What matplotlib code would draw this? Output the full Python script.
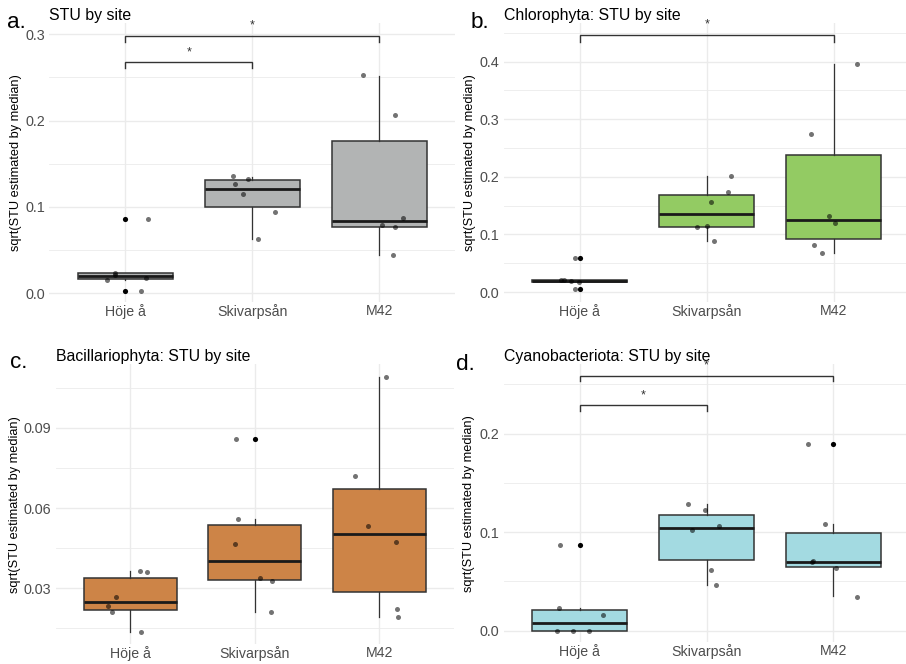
import matplotlib
matplotlib.use("Agg")
import matplotlib.pyplot as plt
from matplotlib.ticker import MultipleLocator

plt.rcParams['font.family'] = ['Liberation Sans', 'DejaVu Sans']

sites = ['Höje å', 'Skivarpsån', 'M42']
ylabel = 'sqrt(STU estimated by median)'

# ---------------- panel a ----------------
a_title = 'STU by site'
a_q1 = [0.0162, 0.0996, 0.0772]
a_med = [0.0201, 0.1208, 0.0838]
a_q3 = [0.0232, 0.1309, 0.1768]
a_lo = [0.0158, 0.0633, 0.0440]
a_hi = [0.0232, 0.1350, 0.2517]
a_out = [[0.0865, 0.0027], [], []]
a_pts = [[0.0865, 0.0232, 0.0210, 0.0158, 0.0180, 0.0023],
         [0.1363, 0.1263, 0.1328, 0.1154, 0.0942, 0.0629],
         [0.2525, 0.2066, 0.0876, 0.0792, 0.0768, 0.0440]]
a_jit = [[0.178, -0.084, -0.084, -0.144, 0.163, 0.126],
         [-0.152, -0.139, -0.037, -0.071, 0.178, 0.042],
         [-0.126, 0.121, 0.186, 0.024, 0.126, 0.110]]
a_brk = [(0, 1, 0.268, 0.2606, 0.279), (0, 2, 0.298, 0.2907, 0.3097)]

# ---------------- panel b ----------------
b_title = 'Chlorophyta: STU by site'
b_q1 = [0.0177, 0.1135, 0.0915]
b_med = [0.0192, 0.1349, 0.1256]
b_q3 = [0.0205, 0.1685, 0.2379]
b_lo = [0.0174, 0.0891, 0.0672]
b_hi = [0.0208, 0.2015, 0.3960]
b_out = [[0.0597, 0.0047], [], []]
b_pts = [[0.0597, 0.0203, 0.0208, 0.0186, 0.0174, 0.0047],
         [0.2020, 0.1730, 0.1557, 0.1129, 0.1152, 0.0886],
         [0.3965, 0.2738, 0.1314, 0.1204, 0.0810, 0.0672]]
b_jit = [[-0.037, -0.150, -0.126, -0.069, -0.006, -0.037],
         [0.192, 0.168, 0.034, -0.076, 0.0, 0.055],
         [0.184, -0.181, -0.037, 0.008, -0.152, -0.094]]
b_brk = [(0, 2, 0.4463, 0.4347, 0.4654)]

# ---------------- panel c ----------------
c_title = 'Bacillariophyta: STU by site'
c_q1 = [0.02177, 0.03300, 0.02857]
c_med = [0.02501, 0.04023, 0.05030]
c_q3 = [0.03374, 0.05358, 0.06730]
c_lo = [0.01366, 0.02114, 0.01927]
c_hi = [0.03636, 0.05582, 0.10910]
c_out = [[], [0.08588], []]
c_pts = [[0.03649, 0.03624, 0.02663, 0.02326, 0.02127, 0.01366],
         [0.08588, 0.05595, 0.04659, 0.03374, 0.03274, 0.02114],
         [0.10910, 0.07204, 0.05320, 0.04746, 0.02226, 0.01927]]
c_jit = [[0.075, 0.134, -0.115, -0.182, -0.145, 0.086],
         [-0.147, -0.134, -0.158, 0.043, 0.137, 0.131],
         [0.056, -0.198, -0.088, 0.131, 0.145, 0.153]]
c_brk = []

# ---------------- panel d ----------------
d_title = 'Cyanobacteriota: STU by site'
d_q1 = [0.0000, 0.0717, 0.0650]
d_med = [0.00778, 0.1042, 0.0700]
d_q3 = [0.02064, 0.1178, 0.0988]
d_lo = [0.0000, 0.0460, 0.0349]
d_hi = [0.0227, 0.1286, 0.1080]
d_out = [[0.0866], [], [0.1892]]
d_pts = [[0.0866, 0.0227, 0.0159, 0.0, 0.0, 0.0],
         [0.1286, 0.1222, 0.1059, 0.1025, 0.0616, 0.0460],
         [0.1892, 0.1080, 0.0711, 0.0694, 0.0640, 0.0345]]
d_jit = [[-0.155, -0.163, 0.187, -0.176, -0.053, 0.074],
         [-0.150, -0.011, 0.095, -0.116, 0.037, 0.076],
         [-0.197, -0.063, -0.158, -0.166, 0.016, 0.187]]
d_brk = [(0, 1, 0.2288, 0.2230, 0.2393), (0, 2, 0.2589, 0.2531, 0.2694)]

W, H = 906, 664
fig = plt.figure(figsize=(W / 100, H / 100), dpi=100)


def px_axes(left, right, top, bottom):
    return fig.add_axes([left / W, 1 - bottom / H, (right - left) / W, (bottom - top) / H])


def panel(ax, tag, tagxy, title, q1, med, q3, lo, hi, outs, pts, jit, brks,
          color, ylim, major, minor, ylab_x):
    stats = [dict(q1=q1[i], med=med[i], q3=q3[i], whislo=lo[i], whishi=hi[i], fliers=[])
             for i in range(len(sites))]
    ax.bxp(stats, positions=range(len(sites)), widths=0.75, patch_artist=True,
           showcaps=False, showfliers=False, manage_ticks=False,
           boxprops=dict(facecolor=color, edgecolor='#333333', lw=1.1),
           medianprops=dict(color='#1A1A1A', lw=2.0),
           whiskerprops=dict(color='#333333', lw=0.9), zorder=2)
    for i in range(len(sites)):
        if outs[i]:
            ax.scatter([i] * len(outs[i]), outs[i], s=14, color='black', lw=0, zorder=3)
        xs = [i + dx for dx in jit[i]]
        ax.scatter(xs, pts[i], s=13, color='black', alpha=0.55, lw=0, zorder=4)

    for (x0, x1, yb, yt, ys) in brks:
        ax.plot([x0, x0, x1, x1], [yt, yb, yb, yt], color='#333333', lw=1.0,
                solid_joinstyle='miter', zorder=5)
        ax.text((x0 + x1) / 2, ys, '*', ha='center', va='center', fontsize=9,
                color='#333333', zorder=5)

    ax.set_xlim(-0.6, 2.6)
    ax.set_ylim(*ylim)
    ax.yaxis.set_major_locator(MultipleLocator(major))
    ax.yaxis.set_minor_locator(MultipleLocator(minor))
    ax.set_xticks(range(len(sites)))
    ax.set_xticklabels(sites)
    for s in ax.spines.values():
        s.set_visible(False)
    ax.tick_params(which='both', length=0)
    ax.tick_params(axis='y', labelsize=10.4, labelcolor='#4D4D4D', pad=2.9)
    ax.tick_params(axis='x', labelsize=10.2, labelcolor='#4D4D4D', pad=1.5)
    ax.grid(which='major', color='#EBEBEB', lw=1.0)
    ax.grid(which='minor', axis='y', color='#EBEBEB', lw=0.6)
    ax.set_axisbelow(True)
    fmt = {0.1: '{:.1f}', 0.03: '{:.2f}'}[major]
    ax.yaxis.set_major_formatter(matplotlib.ticker.FuncFormatter(lambda v, p: fmt.format(v)))

    ax.set_ylabel(ylabel, fontsize=9.2, color='black')
    ax.yaxis.set_label_coords(ylab_x, 0.5)
    ax.text(0, 1, title, transform=ax.transAxes + matplotlib.transforms.ScaledTranslation(0, 3 / 100, fig.dpi_scale_trans),
            ha='left', va='baseline', fontsize=11.4, color='black')
    fig.text(tagxy[0] / W, 1 - tagxy[1] / H, tag, ha='left', va='baseline', fontsize=16.2,
             color='black')


ax_a = px_axes(49.1, 455.5, 23, 302)
panel(ax_a, 'a.', (7, 28), a_title, a_q1, a_med, a_q3, a_lo, a_hi, a_out, a_pts, a_jit,
      a_brk, '#B2B4B4', (-0.0101, 0.313), 0.1, 0.05, -0.0667)

ax_b = px_axes(503.5, 909.9, 22.7, 301.7)
panel(ax_b, 'b.', (471, 28), b_title, b_q1, b_med, b_q3, b_lo, b_hi, b_out, b_pts, b_jit,
      b_brk, '#93CB63', (-0.0168, 0.4677), 0.1, 0.05, -0.068)

ax_c = px_axes(55.6, 454, 364.3, 644.3)
panel(ax_c, 'c.', (10, 368), c_title, c_q1, c_med, c_q3, c_lo, c_hi, c_out, c_pts, c_jit,
      c_brk, '#CD8447', (0.00906, 0.1138), 0.03, 0.015, -0.0868)

ax_d = px_axes(503.6, 909.6, 364.3, 642)
panel(ax_d, 'd.', (456, 370), d_title, d_q1, d_med, d_q3, d_lo, d_hi, d_out, d_pts, d_jit,
      d_brk, '#A3DAE1', (-0.0115, 0.2705), 0.1, 0.05, -0.0704)

fig.savefig('out.png', dpi=100)
